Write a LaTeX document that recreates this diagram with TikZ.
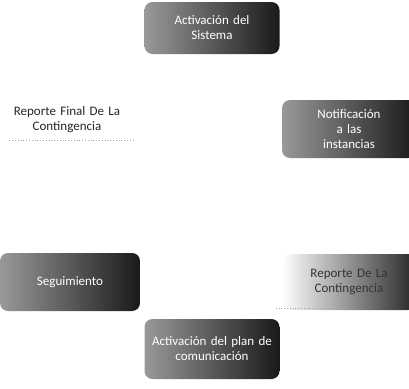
\documentclass[tikz,border=0pt]{standalone}
\usepackage{fontspec}
\setmainfont{Carlito}
\usetikzlibrary {positioning, shadings}
\tikzset{
  stagebox/.style={rounded corners=8pt, minimum width=135pt, minimum height=52pt,
    text width=130pt, align=center, inner sep=2pt,
    font=\fontsize{13}{15}\selectfont},
  darkbox/.style={stagebox, left color=black!40, middle color=black!65,
    right color=black!90, text=white},
  lightbox/.style={stagebox, left color=white, middle color=white,
    right color=black!85, text=black!80},
  plainbox/.style={stagebox, fill=white, text=black!85},
  underline/.style={black!35, dotted, line width=0.8pt}
}
\begin{document}
\begin{tikzpicture}[x=1pt, y=-1pt]
    \useasboundingbox (0, 0) rectangle (409, 388);
    % top
    \node[darkbox] (sistema) at (212, 28) {Activación del\\Sistema};
    % right
    \node[darkbox, minimum width=122pt, minimum height=58pt] (notifica) at (349, 129)
        {Notificación\\a las\\instancias};
    % bottom right
    \node[lightbox, minimum width=122pt, minimum height=56pt] (reporte) at (349, 282)
        {Reporte De La\\Contingencia};
    \draw[underline] ([xshift=-6pt, yshift=2pt]reporte.south west) -- ([xshift=-8pt, yshift=2pt]reporte.south);
    % bottom
    \node[darkbox, minimum height=60pt] (plan) at (212, 349) {Activación del plan de\\comunicación};
    % bottom left
    \node[darkbox, minimum width=140pt, minimum height=58pt] (seguimiento) at (70, 282) {Seguimiento};
    % left
    \node[plainbox] (final) at (67, 120) {Reporte Final De La\\Contingencia};
    \draw[underline] ([xshift=10pt, yshift=6pt]final.south west) -- ([yshift=6pt]final.south east);
\end{tikzpicture}
\end{document}
